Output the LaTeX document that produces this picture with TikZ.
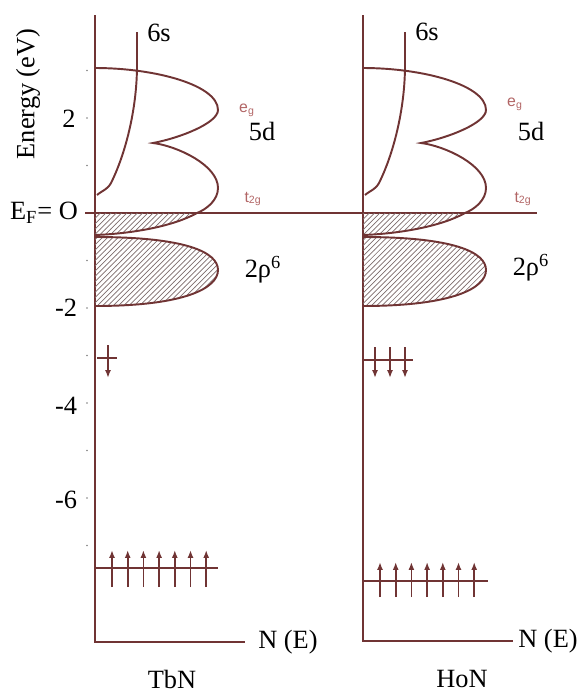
\documentclass[tikz,border=0pt]{standalone}
\usepackage{fontspec}
\setmainfont{Liberation Serif}
\newfontfamily\orbsans{Liberation Sans}
\usetikzlibrary{arrows.meta,patterns}
\definecolor{bandline}{RGB}{112,52,52}
\definecolor{hatchgrey}{RGB}{125,108,108}
\definecolor{orbital}{RGB}{178,102,102}

\newcommand{\bandshapes}{%
  \fill[pattern=north east lines, pattern color=hatchgrey]
    (0,213) -- (102,213) .. controls (75,228) and (30,234) .. (0,235) -- cycle;
  \fill[pattern=north east lines, pattern color=hatchgrey]
    (0,237) .. controls (90,237) and (123,252) .. (123,270)
    .. controls (123,288) and (90,306) .. (0,306) -- cycle;
  \draw[band] (0,68) .. controls (60,68) and (123,85) .. (123,110)
    .. controls (123,123) and (85,138) .. (58,143)
    .. controls (82,146) and (123,165) .. (123,188)
    .. controls (123,200) and (112,209) .. (102,213)
    .. controls (75,228) and (30,234) .. (0,235);
  \draw[band] (0,237) .. controls (90,237) and (123,252) .. (123,270)
    .. controls (123,288) and (90,306) .. (0,306);
  \draw[band] (2,195) .. controls (8,190) and (12,190) .. (16,183)
    .. controls (30,155) and (42,110) .. (42,65) -- (42,32);
}

\begin{document}
\begin{tikzpicture}[
  x=0.02cm, y=-0.02cm,
  band/.style={draw=bandline, line width=1.1pt},
  axisline/.style={draw=bandline, line width=0.9pt},
  level/.style={draw=bandline, line width=1pt},
  spin/.style={draw=bandline, line width=1pt, -{Latex[length=4.5pt,width=3.4pt]}},
  lbl/.style={font=\fontsize{15}{17}\selectfont, inner sep=0pt},
  orb/.style={font=\orbsans\fontsize{9}{10}\selectfont, text=orbital, inner sep=0pt}
]
\useasboundingbox (0,0) rectangle (587,693);

\draw[axisline] (95,15) -- (95,642) -- (245,642);
\draw[axisline] (363,15) -- (363,641) -- (513,641);
\draw[axisline] (85,213) -- (537,213);
\foreach \e in {3,2,1,-1,-2,-3,-4,-5,-6,-7}
  \fill[gray] (87,213-47.5*\e) circle (0.9);

\begin{scope}[shift={(95,0)}]
  \bandshapes
\end{scope}
\begin{scope}[shift={(363,0)}]
  \bandshapes
\end{scope}

\draw[level] (97,358) -- (117,358);
\draw[spin] (108,345) -- (108,378);
\draw[level] (363,360) -- (413,360);
\foreach \sx in {375,390,405}
  \draw[spin] (\sx,347) -- (\sx,378);

\draw[level] (95,568) -- (218,568);
\foreach \i in {0,...,6}
  \draw[spin] (112+15.7*\i,587) -- (112+15.7*\i,550);
\draw[level] (363,581) -- (488,581);
\foreach \i in {0,...,6}
  \draw[spin] (380+15.7*\i,597) -- (380+15.7*\i,562);

\node[lbl, rotate=90] (energy) at (28,94) {Energy (eV)};
\node[lbl] (ef) at (44,213) {E\textsubscript{F}= O};
\node[lbl] (ytwo) at (69,119) {2};
\node[lbl] (ymtwo) at (66,308) {-2};
\node[lbl] (ymfour) at (66,406) {-4};
\node[lbl] (ymsix) at (66,500) {-6};

\node[lbl] (sixstb) at (159,33) {6s};
\node[orb] (egtb) at (247,110) {e\textsubscript{g}};
\node[lbl] (fivedtb) at (262,131) {5d};
\node[orb] (ttgtb) at (253,199) {t\textsubscript{2g}};
\node[lbl] (ptwotb) at (263,270) {2ρ\textsuperscript{6}};

\node[lbl] (sixsho) at (427,32) {6s};
\node[orb] (egho) at (515,104) {e\textsubscript{g}};
\node[lbl] (fivedho) at (531,131) {5d};
\node[orb] (ttgho) at (523,199) {t\textsubscript{2g}};
\node[lbl] (ptwoho) at (531,268) {2ρ\textsuperscript{6}};

\node[lbl, anchor=west] (netb) at (258,642) {N (E)};
\node[lbl, anchor=west] (neho) at (518,641) {N (E)};
\node[lbl] (tbn) at (172,679) {TbN};
\node[lbl] (hon) at (462,679) {HoN};
\end{tikzpicture}
\end{document}
